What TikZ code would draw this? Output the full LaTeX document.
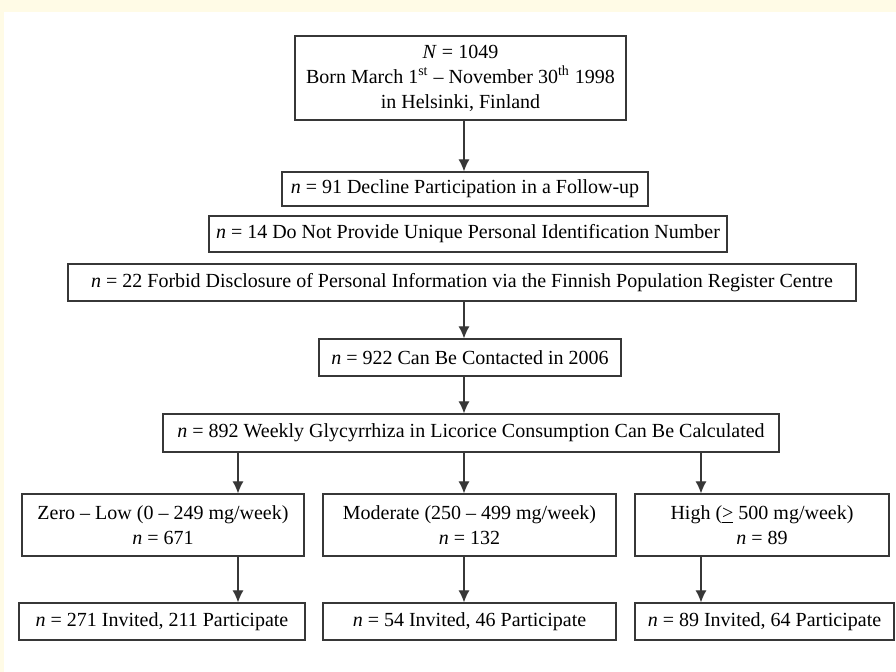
\documentclass[tikz,border=0pt]{standalone}
\usepackage{fontspec}
\setmainfont{Liberation Serif}
\usetikzlibrary{arrows.meta}

\definecolor{cream}{RGB}{255,251,230}
\definecolor{edge}{RGB}{55,55,55}

\tikzset{
  box/.style={draw=edge, line width=0.6pt, align=center, inner sep=0pt,
    font=\fontsize{10}{12.5}\selectfont},
  flow/.style={draw=edge, line width=0.6pt, -{Latex[length=6pt,width=5.5pt]}}
}

\begin{document}
\begin{tikzpicture}[x=0.5pt,y=-0.5pt]
  % Background
  \useasboundingbox (0,0) rectangle (896,672);
  \fill[cream] (0,0) rectangle (896,672);
  \fill[white] (4,12) rectangle (896,672);
  % Cohort
  \node[box, minimum width=165.5pt, minimum height=42pt] (born) at (460.5,78)
    {\textit{N} = 1049\\Born March 1\textsuperscript{st} -- November 30\textsuperscript{th} 1998\\in Helsinki, Finland};
  % Exclusions
  \node[box, minimum width=183pt, minimum height=17pt] (decline) at (465,189)
    {\textit{n} = 91 Decline Participation in a Follow-up};
  \node[box, minimum width=259pt, minimum height=18pt] (pin) at (468,234)
    {\textit{n} = 14 Do Not Provide Unique Personal Identification Number};
  \node[box, minimum width=394pt, minimum height=18.5pt] (register) at (462,282.5)
    {\textit{n} = 22 Forbid Disclosure of Personal Information via the Finnish Population Register Centre};
  \node[box, minimum width=151pt, minimum height=18.5pt] (contact) at (470,357.5)
    {\textit{n} = 922 Can Be Contacted in 2006};
  \node[box, minimum width=308pt, minimum height=19pt] (calc) at (471,433)
    {\textit{n} = 892 Weekly Glycyrrhiza in Licorice Consumption Can Be Calculated};
  % Consumption groups
  \node[box, minimum width=141pt, minimum height=31pt] (low) at (163,525)
    {Zero -- Low (0 -- 249 mg/week)\\\textit{n} = 671};
  \node[box, minimum width=146.5pt, minimum height=31pt] (mod) at (469.5,525)
    {Moderate (250 -- 499 mg/week)\\\textit{n} = 132};
  \node[box, minimum width=127pt, minimum height=31pt] (high) at (762,525)
    {High (\underline{>} 500 mg/week)\\\textit{n} = 89};
  % Participants
  \node[box, minimum width=143pt, minimum height=18.5pt] (lowinv) at (162,621.5)
    {\textit{n} = 271 Invited, 211 Participate};
  \node[box, minimum width=146.5pt, minimum height=18.5pt] (modinv) at (469.5,621.5)
    {\textit{n} = 54 Invited, 46 Participate};
  \node[box, minimum width=129.5pt, minimum height=18.5pt] (highinv) at (764.5,621.5)
    {\textit{n} = 89 Invited, 64 Participate};
  % Arrows
  \coordinate (ca) at (238,0);
  \coordinate (cb) at (464,0);
  \coordinate (cc) at (701,0);
  \draw[flow] (cb |- born.south) -- (cb |- decline.north);
  \draw[flow] (cb |- register.south) -- (cb |- contact.north);
  \draw[flow] (cb |- contact.south) -- (cb |- calc.north);
  \draw[flow] (ca |- calc.south) -- (ca |- low.north);
  \draw[flow] (cb |- calc.south) -- (cb |- mod.north);
  \draw[flow] (cc |- calc.south) -- (cc |- high.north);
  \draw[flow] (ca |- low.south) -- (ca |- lowinv.north);
  \draw[flow] (cb |- mod.south) -- (cb |- modinv.north);
  \draw[flow] (cc |- high.south) -- (cc |- highinv.north);
\end{tikzpicture}
\end{document}
